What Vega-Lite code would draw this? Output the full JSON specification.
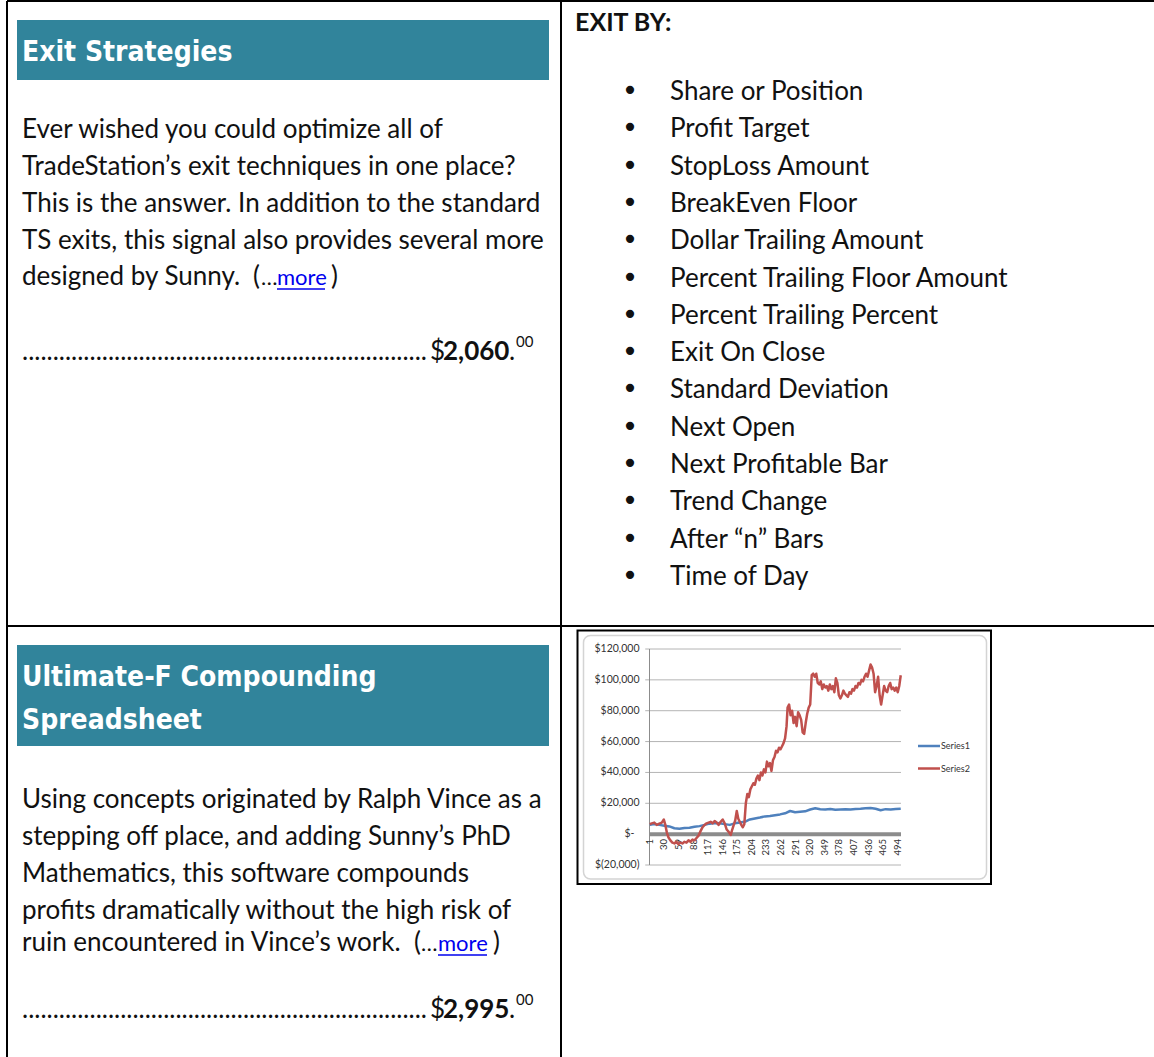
{
  "$schema": "https://vega.github.io/schema/vega-lite/v6.json",
  "width": 1154,
  "height": 1057,
  "padding": 0,
  "autosize": {"type": "none"},
  "background": "white",
  "config": {"view": {"stroke": null}},
  "datasets": {
    "bars": [
      {"x": 17, "x2": 549, "y": 20, "y2": 80},
      {"x": 17, "x2": 549, "y": 645, "y2": 746}
    ],
    "borders": [
      {"x": 7, "x2": 1154, "y": 1, "y2": 1},
      {"x": 7, "x2": 7, "y": 1, "y2": 1057},
      {"x": 561, "x2": 561, "y": 1, "y2": 1057},
      {"x": 7, "x2": 1154, "y": 626, "y2": 626}
    ],
    "frame": [{"x": 577.5, "x2": 991, "y": 630.5, "y2": 884}],
    "innerframe": [{"x": 583.5, "x2": 986.5, "y": 635.5, "y2": 879}],
    "headings": [
      {"t": "Exit Strategies", "x": 22, "y": 61},
      {"t": "Ultimate-F Compounding", "x": 22, "y": 686},
      {"t": "Spreadsheet", "x": 22, "y": 729}
    ],
    "body": [
      {"t": "Ever wished you could optimize all of", "x": 22, "y": 138},
      {"t": "TradeStation’s exit techniques in one place?", "x": 22, "y": 175},
      {"t": "This is the answer. In addition to the standard", "x": 22, "y": 212},
      {"t": "TS exits, this signal also provides several more", "x": 22, "y": 249},
      {"t": "designed by Sunny.", "x": 22, "y": 285},
      {"t": "(", "x": 253, "y": 285},
      {"t": ")", "x": 331, "y": 285},
      {"t": "Using concepts originated by Ralph Vince as a", "x": 22, "y": 808},
      {"t": "stepping off place, and adding Sunny’s PhD", "x": 22, "y": 845},
      {"t": "Mathematics, this software compounds", "x": 22, "y": 882},
      {"t": "profits dramatically without the high risk of", "x": 22, "y": 919},
      {"t": "ruin encountered in Vince’s work.", "x": 22, "y": 951},
      {"t": "(", "x": 414, "y": 951},
      {"t": ")", "x": 493, "y": 951},
      {"t": "..................................................................", "x": 22, "y": 360},
      {"t": "$", "x": 430, "y": 360},
      {"t": ".", "x": 509, "y": 360},
      {"t": "..................................................................", "x": 22, "y": 1018},
      {"t": "$", "x": 430, "y": 1018},
      {"t": ".", "x": 509, "y": 1018}
    ],
    "boldtext": [
      {"t": "2,060", "x": 443, "y": 360},
      {"t": "2,995", "x": 443, "y": 1018}
    ],
    "exitby": [
      {"t": "EXIT BY:", "x": 575, "y": 31}
    ],
    "sup": [
      {"t": "00", "x": 516, "y": 347},
      {"t": "00", "x": 516, "y": 1005}
    ],
    "ellipsis": [
      {"t": "…", "x": 261, "y": 285},
      {"t": "…", "x": 421, "y": 951}
    ],
    "links": [
      {"t": "more", "x": 277, "y": 285},
      {"t": "more", "x": 438, "y": 951}
    ],
    "underlines": [
      {"x": 277, "x2": 325, "y": 289},
      {"x": 438, "x2": 487, "y": 955}
    ],
    "bullets": [
      {"t": "Share or Position", "x": 670, "y": 100},
      {"t": "Profit Target", "x": 670, "y": 137.3},
      {"t": "StopLoss Amount", "x": 670, "y": 174.6},
      {"t": "BreakEven Floor", "x": 670, "y": 211.9},
      {"t": "Dollar Trailing Amount", "x": 670, "y": 249.2},
      {"t": "Percent Trailing Floor Amount", "x": 670, "y": 286.5},
      {"t": "Percent Trailing Percent", "x": 670, "y": 323.8},
      {"t": "Exit On Close", "x": 670, "y": 361.1},
      {"t": "Standard Deviation", "x": 670, "y": 398.4},
      {"t": "Next Open", "x": 670, "y": 435.7},
      {"t": "Next Profitable Bar", "x": 670, "y": 473},
      {"t": "Trend Change", "x": 670, "y": 510.3},
      {"t": "After “n” Bars", "x": 670, "y": 547.6},
      {"t": "Time of Day", "x": 670, "y": 584.9}
    ],
    "legend": [
      {"s": "Series1", "x": 918, "x2": 940, "y": 746},
      {"s": "Series2", "x": 918, "x2": 940, "y": 768.5}
    ],
    "grid": [
      {"v": -20000}, {"v": 20000}, {"v": 40000}, {"v": 60000}, {"v": 80000}, {"v": 100000}, {"v": 120000}
    ],
    "ylabels": [
      {"v": 120000, "t": "$120,000"},
      {"v": 100000, "t": "$100,000"},
      {"v": 80000, "t": "$80,000"},
      {"v": 60000, "t": "$60,000"},
      {"v": 40000, "t": "$40,000"},
      {"v": 20000, "t": "$20,000"},
      {"v": -20000, "t": "$(20,000)"}
    ],
    "yzero": [{"v": 0, "t": "$-"}],
    "xlabels": [
      {"i": 1}, {"i": 30}, {"i": 59}, {"i": 88}, {"i": 117}, {"i": 146}, {"i": 175}, {"i": 204}, {"i": 233},
      {"i": 262}, {"i": 291}, {"i": 320}, {"i": 349}, {"i": 378}, {"i": 407}, {"i": 436}, {"i": 465}, {"i": 494}
    ],
    "series": [
      {"s": "Series1", "i": 1, "v": 6000}, {"s": "Series1", "i": 10, "v": 6500}, {"s": "Series1", "i": 20, "v": 6000},
      {"s": "Series1", "i": 30, "v": 5500}, {"s": "Series1", "i": 40, "v": 5000}, {"s": "Series1", "i": 50, "v": 3800},
      {"s": "Series1", "i": 60, "v": 3500}, {"s": "Series1", "i": 70, "v": 4000}, {"s": "Series1", "i": 80, "v": 4200},
      {"s": "Series1", "i": 90, "v": 4800}, {"s": "Series1", "i": 100, "v": 5200}, {"s": "Series1", "i": 110, "v": 6000},
      {"s": "Series1", "i": 120, "v": 6800}, {"s": "Series1", "i": 130, "v": 7200}, {"s": "Series1", "i": 140, "v": 7000},
      {"s": "Series1", "i": 150, "v": 6500}, {"s": "Series1", "i": 160, "v": 6000}, {"s": "Series1", "i": 170, "v": 7000},
      {"s": "Series1", "i": 180, "v": 7500}, {"s": "Series1", "i": 190, "v": 8000}, {"s": "Series1", "i": 200, "v": 9500},
      {"s": "Series1", "i": 210, "v": 10200}, {"s": "Series1", "i": 220, "v": 10800}, {"s": "Series1", "i": 230, "v": 11500},
      {"s": "Series1", "i": 240, "v": 11800}, {"s": "Series1", "i": 250, "v": 12300}, {"s": "Series1", "i": 260, "v": 12800},
      {"s": "Series1", "i": 270, "v": 13500}, {"s": "Series1", "i": 280, "v": 15000}, {"s": "Series1", "i": 290, "v": 14200},
      {"s": "Series1", "i": 300, "v": 14500}, {"s": "Series1", "i": 310, "v": 14800}, {"s": "Series1", "i": 320, "v": 16000},
      {"s": "Series1", "i": 330, "v": 16800}, {"s": "Series1", "i": 340, "v": 16200}, {"s": "Series1", "i": 350, "v": 16000},
      {"s": "Series1", "i": 360, "v": 16300}, {"s": "Series1", "i": 370, "v": 15800}, {"s": "Series1", "i": 380, "v": 16000},
      {"s": "Series1", "i": 390, "v": 16200}, {"s": "Series1", "i": 400, "v": 16000}, {"s": "Series1", "i": 410, "v": 16300},
      {"s": "Series1", "i": 420, "v": 16500}, {"s": "Series1", "i": 430, "v": 16800}, {"s": "Series1", "i": 440, "v": 17000},
      {"s": "Series1", "i": 450, "v": 16500}, {"s": "Series1", "i": 460, "v": 15500}, {"s": "Series1", "i": 470, "v": 16200},
      {"s": "Series1", "i": 480, "v": 16000}, {"s": "Series1", "i": 490, "v": 16300}, {"s": "Series1", "i": 500, "v": 16500},
      {"s": "Series2", "i": 1, "v": 6500}, {"s": "Series2", "i": 5, "v": 7000}, {"s": "Series2", "i": 10, "v": 7500},
      {"s": "Series2", "i": 15, "v": 6000}, {"s": "Series2", "i": 20, "v": 6800}, {"s": "Series2", "i": 25, "v": 7500},
      {"s": "Series2", "i": 29, "v": 9500}, {"s": "Series2", "i": 32, "v": 6000}, {"s": "Series2", "i": 35, "v": 1000},
      {"s": "Series2", "i": 38, "v": -2000}, {"s": "Series2", "i": 42, "v": -4000}, {"s": "Series2", "i": 46, "v": -5500},
      {"s": "Series2", "i": 50, "v": -6000}, {"s": "Series2", "i": 54, "v": -5000}, {"s": "Series2", "i": 58, "v": -6500},
      {"s": "Series2", "i": 62, "v": -5500}, {"s": "Series2", "i": 66, "v": -6000}, {"s": "Series2", "i": 70, "v": -5000},
      {"s": "Series2", "i": 74, "v": -5500}, {"s": "Series2", "i": 78, "v": -4000}, {"s": "Series2", "i": 82, "v": -5000},
      {"s": "Series2", "i": 86, "v": -3500}, {"s": "Series2", "i": 90, "v": -4000}, {"s": "Series2", "i": 94, "v": -2500},
      {"s": "Series2", "i": 98, "v": -1000}, {"s": "Series2", "i": 102, "v": 2000}, {"s": "Series2", "i": 106, "v": 4500},
      {"s": "Series2", "i": 110, "v": 6000}, {"s": "Series2", "i": 114, "v": 7000}, {"s": "Series2", "i": 118, "v": 7500},
      {"s": "Series2", "i": 122, "v": 8000}, {"s": "Series2", "i": 126, "v": 7000}, {"s": "Series2", "i": 130, "v": 8500},
      {"s": "Series2", "i": 134, "v": 7500}, {"s": "Series2", "i": 138, "v": 6000}, {"s": "Series2", "i": 142, "v": 8000},
      {"s": "Series2", "i": 146, "v": 9500}, {"s": "Series2", "i": 150, "v": 7000}, {"s": "Series2", "i": 154, "v": 3000},
      {"s": "Series2", "i": 158, "v": 1500}, {"s": "Series2", "i": 162, "v": -500}, {"s": "Series2", "i": 165, "v": 3000},
      {"s": "Series2", "i": 168, "v": 6000}, {"s": "Series2", "i": 171, "v": 9000}, {"s": "Series2", "i": 174, "v": 15000},
      {"s": "Series2", "i": 177, "v": 10000}, {"s": "Series2", "i": 180, "v": 8000}, {"s": "Series2", "i": 183, "v": 6000},
      {"s": "Series2", "i": 186, "v": 4500}, {"s": "Series2", "i": 189, "v": 6500}, {"s": "Series2", "i": 192, "v": 20000},
      {"s": "Series2", "i": 195, "v": 26000}, {"s": "Series2", "i": 198, "v": 24000}, {"s": "Series2", "i": 201, "v": 29000},
      {"s": "Series2", "i": 204, "v": 31000}, {"s": "Series2", "i": 207, "v": 33000}, {"s": "Series2", "i": 210, "v": 32000},
      {"s": "Series2", "i": 213, "v": 36000}, {"s": "Series2", "i": 216, "v": 38000}, {"s": "Series2", "i": 219, "v": 35000},
      {"s": "Series2", "i": 222, "v": 40000}, {"s": "Series2", "i": 225, "v": 38000}, {"s": "Series2", "i": 228, "v": 42000},
      {"s": "Series2", "i": 231, "v": 40000}, {"s": "Series2", "i": 234, "v": 47000}, {"s": "Series2", "i": 237, "v": 44000},
      {"s": "Series2", "i": 240, "v": 46000}, {"s": "Series2", "i": 243, "v": 41000}, {"s": "Series2", "i": 246, "v": 48000},
      {"s": "Series2", "i": 249, "v": 50000}, {"s": "Series2", "i": 252, "v": 54000}, {"s": "Series2", "i": 255, "v": 53000},
      {"s": "Series2", "i": 258, "v": 56000}, {"s": "Series2", "i": 261, "v": 55000}, {"s": "Series2", "i": 264, "v": 57000},
      {"s": "Series2", "i": 267, "v": 59000}, {"s": "Series2", "i": 270, "v": 62000}, {"s": "Series2", "i": 273, "v": 70000},
      {"s": "Series2", "i": 275, "v": 82000}, {"s": "Series2", "i": 278, "v": 84000}, {"s": "Series2", "i": 281, "v": 77000},
      {"s": "Series2", "i": 284, "v": 80000}, {"s": "Series2", "i": 287, "v": 72000}, {"s": "Series2", "i": 290, "v": 76000},
      {"s": "Series2", "i": 293, "v": 70000}, {"s": "Series2", "i": 296, "v": 79000}, {"s": "Series2", "i": 299, "v": 77000},
      {"s": "Series2", "i": 302, "v": 74000}, {"s": "Series2", "i": 305, "v": 66000}, {"s": "Series2", "i": 308, "v": 65000},
      {"s": "Series2", "i": 311, "v": 72000}, {"s": "Series2", "i": 314, "v": 78000}, {"s": "Series2", "i": 317, "v": 82000},
      {"s": "Series2", "i": 320, "v": 84000}, {"s": "Series2", "i": 323, "v": 103000}, {"s": "Series2", "i": 326, "v": 104000},
      {"s": "Series2", "i": 329, "v": 102000}, {"s": "Series2", "i": 332, "v": 104000}, {"s": "Series2", "i": 335, "v": 98000},
      {"s": "Series2", "i": 338, "v": 97000}, {"s": "Series2", "i": 341, "v": 99000}, {"s": "Series2", "i": 344, "v": 94000},
      {"s": "Series2", "i": 347, "v": 97000}, {"s": "Series2", "i": 350, "v": 95000}, {"s": "Series2", "i": 353, "v": 96000},
      {"s": "Series2", "i": 356, "v": 93000}, {"s": "Series2", "i": 359, "v": 97000}, {"s": "Series2", "i": 362, "v": 94000},
      {"s": "Series2", "i": 365, "v": 96000}, {"s": "Series2", "i": 368, "v": 92000}, {"s": "Series2", "i": 371, "v": 101000},
      {"s": "Series2", "i": 374, "v": 98000}, {"s": "Series2", "i": 377, "v": 90000}, {"s": "Series2", "i": 380, "v": 88000},
      {"s": "Series2", "i": 383, "v": 90000}, {"s": "Series2", "i": 386, "v": 93000}, {"s": "Series2", "i": 389, "v": 91000},
      {"s": "Series2", "i": 392, "v": 90000}, {"s": "Series2", "i": 395, "v": 89000}, {"s": "Series2", "i": 398, "v": 92000},
      {"s": "Series2", "i": 401, "v": 91000}, {"s": "Series2", "i": 404, "v": 94000}, {"s": "Series2", "i": 407, "v": 93000},
      {"s": "Series2", "i": 410, "v": 96000}, {"s": "Series2", "i": 413, "v": 95000}, {"s": "Series2", "i": 416, "v": 98000},
      {"s": "Series2", "i": 419, "v": 97000}, {"s": "Series2", "i": 422, "v": 100000}, {"s": "Series2", "i": 425, "v": 99000},
      {"s": "Series2", "i": 428, "v": 102000}, {"s": "Series2", "i": 431, "v": 104000}, {"s": "Series2", "i": 434, "v": 102000},
      {"s": "Series2", "i": 437, "v": 106000}, {"s": "Series2", "i": 440, "v": 110000}, {"s": "Series2", "i": 443, "v": 108000},
      {"s": "Series2", "i": 446, "v": 104000}, {"s": "Series2", "i": 449, "v": 92000}, {"s": "Series2", "i": 452, "v": 96000},
      {"s": "Series2", "i": 455, "v": 102000}, {"s": "Series2", "i": 458, "v": 90000}, {"s": "Series2", "i": 461, "v": 84000},
      {"s": "Series2", "i": 464, "v": 90000}, {"s": "Series2", "i": 467, "v": 96000}, {"s": "Series2", "i": 470, "v": 93000},
      {"s": "Series2", "i": 473, "v": 92000}, {"s": "Series2", "i": 476, "v": 96000}, {"s": "Series2", "i": 479, "v": 98000},
      {"s": "Series2", "i": 482, "v": 94000}, {"s": "Series2", "i": 485, "v": 95000}, {"s": "Series2", "i": 488, "v": 93000},
      {"s": "Series2", "i": 491, "v": 95000}, {"s": "Series2", "i": 494, "v": 92000}, {"s": "Series2", "i": 497, "v": 96000},
      {"s": "Series2", "i": 500, "v": 103000}
    ]
  },
  "layer": [
    {
      "encoding": {
        "x": {"field": "x", "type": "quantitative", "scale": {"domain": [0, 1154], "range": [0, 1154], "nice": false, "zero": false}, "axis": null},
        "y": {"field": "y", "type": "quantitative", "scale": {"domain": [0, 1057], "range": [0, 1057], "nice": false, "zero": false}, "axis": null}
      },
      "layer": [
        {"data": {"name": "bars"}, "mark": {"type": "rect", "color": "#31849B"}, "encoding": {"x2": {"field": "x2"}, "y2": {"field": "y2"}}},
        {"data": {"name": "borders"}, "mark": {"type": "rule", "color": "#000000", "strokeWidth": 2}, "encoding": {"x2": {"field": "x2"}, "y2": {"field": "y2"}}},
        {"data": {"name": "innerframe"}, "mark": {"type": "rect", "fill": "#ffffff", "stroke": "#d4d4d4", "strokeWidth": 1.5, "cornerRadius": 7}, "encoding": {"x2": {"field": "x2"}, "y2": {"field": "y2"}}},
        {"data": {"name": "frame"}, "mark": {"type": "rect", "fill": null, "stroke": "#000000", "strokeWidth": 2}, "encoding": {"x2": {"field": "x2"}, "y2": {"field": "y2"}}},
        {"data": {"name": "headings"}, "mark": {"type": "text", "align": "left", "baseline": "alphabetic", "font": "DejaVu Sans Condensed, sans-serif", "fontWeight": "bold", "fontSize": 28, "color": "#ffffff"}, "encoding": {"text": {"field": "t"}}},
        {"data": {"name": "body"}, "mark": {"type": "text", "align": "left", "baseline": "alphabetic", "font": "Lato", "fontSize": 26, "color": "#111111"}, "encoding": {"text": {"field": "t"}}},
        {"data": {"name": "boldtext"}, "mark": {"type": "text", "align": "left", "baseline": "alphabetic", "font": "Lato", "fontWeight": "bold", "fontSize": 26, "color": "#111111"}, "encoding": {"text": {"field": "t"}}},
        {"data": {"name": "exitby"}, "mark": {"type": "text", "align": "left", "baseline": "alphabetic", "font": "Lato", "fontWeight": "bold", "fontSize": 25, "color": "#111111"}, "encoding": {"text": {"field": "t"}}},
        {"data": {"name": "sup"}, "mark": {"type": "text", "align": "left", "baseline": "alphabetic", "font": "Lato", "fontSize": 15, "color": "#111111"}, "encoding": {"text": {"field": "t"}}},
        {"data": {"name": "ellipsis"}, "mark": {"type": "text", "align": "left", "baseline": "alphabetic", "font": "Lato", "fontSize": 22, "color": "#111111"}, "encoding": {"text": {"field": "t"}}},
        {"data": {"name": "links"}, "mark": {"type": "text", "align": "left", "baseline": "alphabetic", "font": "Lato", "fontSize": 22, "color": "#0000ee"}, "encoding": {"text": {"field": "t"}}},
        {"data": {"name": "underlines"}, "mark": {"type": "rule", "color": "#0000ee", "strokeWidth": 1.5}, "encoding": {"x2": {"field": "x2"}}},
        {"data": {"name": "bullets"}, "mark": {"type": "text", "align": "left", "baseline": "alphabetic", "font": "Lato", "fontSize": 26, "color": "#111111"}, "encoding": {"text": {"field": "t"}}},
        {"data": {"name": "bullets"}, "mark": {"type": "text", "align": "center", "baseline": "alphabetic", "font": "DejaVu Sans", "fontSize": 28, "color": "#111111", "dx": -40, "text": "•"}},
        {"data": {"name": "legend"}, "mark": {"type": "rule", "strokeWidth": 2.5}, "encoding": {"x2": {"field": "x2"}, "color": {"field": "s", "type": "nominal", "scale": {"domain": ["Series1", "Series2"], "range": ["#4F81BD", "#C0504D"]}, "legend": null}}},
        {"data": {"name": "legend"}, "mark": {"type": "text", "align": "left", "baseline": "middle", "font": "Lato", "fontSize": 9, "color": "#333333", "dx": 23}, "encoding": {"text": {"field": "s"}}}
      ]
    },
    {
      "layer": [
        {"data": {"name": "grid"}, "mark": {"type": "rule", "color": "#b4b4b4", "strokeWidth": 1},
         "encoding": {
           "y": {"field": "v", "type": "quantitative", "scale": {"domain": [-20000, 120000], "range": [865, 649], "nice": false, "zero": false}, "axis": null},
           "x": {"datum": -8, "type": "quantitative", "scale": {"domain": [0.5, 500.5], "range": [649.5, 901], "nice": false, "zero": false}, "axis": null},
           "x2": {"datum": 500.5}
         }},
        {"data": {"values": [{"v": 0}]}, "mark": {"type": "rule", "color": "#8c8c8c", "strokeWidth": 4},
         "encoding": {
           "y": {"field": "v", "type": "quantitative", "scale": {"domain": [-20000, 120000], "range": [865, 649], "nice": false, "zero": false}, "axis": null},
           "x": {"datum": 0.5, "type": "quantitative", "scale": {"domain": [0.5, 500.5], "range": [649.5, 901], "nice": false, "zero": false}, "axis": null},
           "x2": {"datum": 500.5}
         }},
        {"data": {"values": [{"v": -20000, "v2": 120000}]}, "mark": {"type": "rule", "color": "#8c8c8c", "strokeWidth": 1},
         "encoding": {
           "y": {"field": "v", "type": "quantitative", "scale": {"domain": [-20000, 120000], "range": [865, 649], "nice": false, "zero": false}, "axis": null},
           "y2": {"field": "v2"},
           "x": {"datum": 0.5, "type": "quantitative", "scale": {"domain": [0.5, 500.5], "range": [649.5, 901], "nice": false, "zero": false}, "axis": null}
         }},
        {"data": {"name": "ylabels"}, "mark": {"type": "text", "align": "right", "baseline": "middle", "font": "Lato", "fontSize": 10.5, "color": "#333333", "dx": -10},
         "encoding": {
           "y": {"field": "v", "type": "quantitative", "scale": {"domain": [-20000, 120000], "range": [865, 649], "nice": false, "zero": false}, "axis": null},
           "x": {"datum": 0.5, "type": "quantitative", "scale": {"domain": [0.5, 500.5], "range": [649.5, 901], "nice": false, "zero": false}, "axis": null},
           "text": {"field": "t"}
         }},
        {"data": {"name": "yzero"}, "mark": {"type": "text", "align": "right", "baseline": "middle", "font": "Lato", "fontSize": 10.5, "color": "#333333", "dx": -15},
         "encoding": {
           "y": {"field": "v", "type": "quantitative", "scale": {"domain": [-20000, 120000], "range": [865, 649], "nice": false, "zero": false}, "axis": null},
           "x": {"datum": 0.5, "type": "quantitative", "scale": {"domain": [0.5, 500.5], "range": [649.5, 901], "nice": false, "zero": false}, "axis": null},
           "text": {"field": "t"}
         }},
        {"data": {"name": "xlabels"}, "mark": {"type": "text", "align": "right", "baseline": "middle", "angle": 270, "font": "Lato", "fontSize": 9.5, "color": "#333333"},
         "encoding": {
           "x": {"field": "i", "type": "quantitative", "scale": {"domain": [0.5, 500.5], "range": [649.5, 901], "nice": false, "zero": false}, "axis": null},
           "y": {"datum": -3200, "type": "quantitative", "scale": {"domain": [-20000, 120000], "range": [865, 649], "nice": false, "zero": false}, "axis": null},
           "text": {"field": "i", "type": "quantitative"}
         }},
        {"data": {"name": "series"}, "mark": {"type": "line", "strokeWidth": 2.5, "strokeJoin": "round"},
         "encoding": {
           "x": {"field": "i", "type": "quantitative", "scale": {"domain": [0.5, 500.5], "range": [649.5, 901], "nice": false, "zero": false}, "axis": null},
           "y": {"field": "v", "type": "quantitative", "scale": {"domain": [-20000, 120000], "range": [865, 649], "nice": false, "zero": false}, "axis": null},
           "color": {"field": "s", "type": "nominal", "scale": {"domain": ["Series1", "Series2"], "range": ["#4F81BD", "#C0504D"]}, "legend": null}
         }}
      ]
    }
  ],
  "resolve": {"scale": {"x": "independent", "y": "independent"}}
}
